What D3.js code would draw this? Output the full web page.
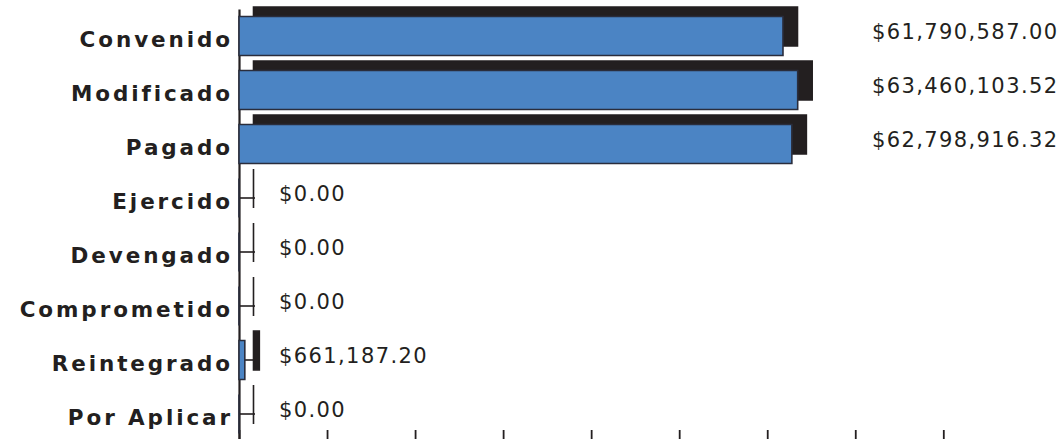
<!DOCTYPE html>
<html>
<head>
<meta charset="utf-8">
<script src="https://d3js.org/d3.v7.min.js"></script>
<style>
	html, body { margin: 0; padding: 0; background: #fff; }
	.cat { font-family: "DejaVu Sans", sans-serif; font-weight: bold; font-size: 21.5px; letter-spacing: 2.9px; fill: #231f20; }
	.value { font-family: "DejaVu Sans", sans-serif; font-size: 21px; letter-spacing: 1.4px; fill: #231f20; }
</style>
</head>
<body>
<main></main>
<script>
const categories = ["Convenido", "Modificado", "Pagado", "Ejercido", "Devengado", "Comprometido", "Reintegrado", "Por Aplicar"];
const values = [61790587.00, 63460103.52, 62798916.32, 0, 0, 0, 661187.20, 0];
const xTicks = [0, 10000000, 20000000, 30000000, 40000000, 50000000, 60000000, 70000000, 80000000];

const width = 1063;
const height = 439;
const left = 239;

const data = categories.map((c, i) => ({ name: c, value: values[i] }));

var svg = d3.select("main")
	.append("svg")
	.attr("width", width)
	.attr("height", height);

const xScale = d3.scaleLinear()
	.domain([0, 80000000])
	.range([left, left + 704.3]);

const yScale = d3.scaleBand()
	.domain(categories)
	.range([9, 441])
	.paddingInner(0.28)
	.paddingOuter(0.14);

const bw = yScale.bandwidth();
const mid = (d) => yScale(d.name) + bw / 2;
const shadowDx = 14.5;
const shadowDy = -9.5;
const fmt = d3.format("$,.2f");

// bottom ticks (labels fall outside the picture)
svg.append('g')
	.attr('transform', 'translate(0, 430)')
	.call(d3.axisBottom(xScale).tickValues(xTicks).tickSize(11).tickFormat(''))
	.call(g => g.select('.domain').remove())
	.call(g => g.selectAll('line').attr('stroke', '#231f20').attr('stroke-width', 1.8));

// y axis, ticks pointing into the plot
const yAxis = svg.append('g')
	.attr('transform', `translate(${left}, 0)`)
	.call(d3.axisLeft(yScale).tickSize(-16).tickSizeOuter(0).tickPadding(0).tickFormat(''));
yAxis.select('.domain').attr('stroke', '#231f20').attr('stroke-width', 2.2);
yAxis.selectAll('line').attr('stroke', '#231f20').attr('stroke-width', 1.6);

const barPath = (x0, x1, y0, y1) => `M${x0},${y0}H${x1}V${y1}H${x0}Z`;

// dark offset shadows
svg.append('g').selectAll('path')
	.data(data)
	.join('path')
	.attr('d', d => barPath(xScale(0) + shadowDx, xScale(d.value) + shadowDx,
		yScale(d.name) + shadowDy, yScale(d.name) + shadowDy + bw))
	.attr('fill', '#231f20')
	.attr('stroke', '#231f20')
	.attr('stroke-width', 1.6);

// blue bars
svg.append('g').selectAll('path')
	.data(data)
	.join('path')
	.attr('d', d => barPath(xScale(0), xScale(d.value), yScale(d.name), yScale(d.name) + bw))
	.attr('fill', '#4b84c4')
	.attr('stroke', '#2a2d3c')
	.attr('stroke-width', 1.6);

// category labels
svg.append('g').selectAll('text')
	.data(data)
	.join('text')
	.attr('class', 'cat')
	.attr('x', left - 6)
	.attr('y', d => mid(d) + 10.5)
	.attr('text-anchor', 'end')
	.text(d => d.name);

// value labels
svg.append('g').selectAll('text')
	.data(data)
	.join('text')
	.attr('class', 'value')
	.attr('x', d => d.value > 10000000 ? width - 4.5 : xScale(0) + 40)
	.attr('y', d => mid(d) + 2.5)
	.attr('text-anchor', d => d.value > 10000000 ? 'end' : 'start')
	.text(d => fmt(d.value));
</script>
</body>
</html>
